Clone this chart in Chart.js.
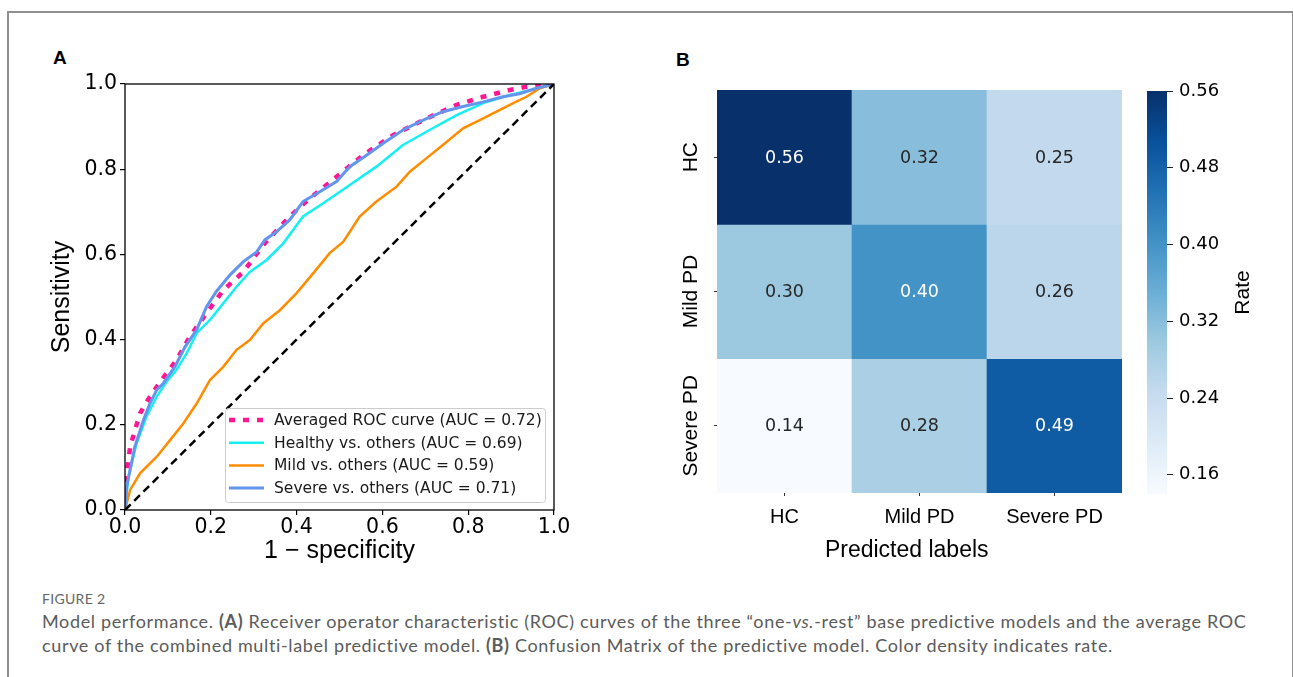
<!DOCTYPE html>
<html>
<head>
<meta charset="utf-8">
<script src="https://cdn.jsdelivr.net/npm/chart.js@4.4.0/dist/chart.umd.min.js"></script>
<style>
  body { margin: 0; background: #fff; width: 1293px; height: 677px; overflow: hidden; position: relative; }
  .box { position: absolute; left: 7px; top: 11px; width: 1283px; height: 720px; border: 2px solid #8f8f8f; }
  canvas { position: absolute; }
  .panel { position: absolute; font: bold 19px "Liberation Sans", Arial, sans-serif; line-height: 19px; color: #000; }
  .cap-label { position: absolute; left: 42px; top: 590px; font: 14px Lato, "Open Sans", sans-serif; color: #666; letter-spacing: 0.3px; }
  .cap-text { position: absolute; left: 42px; top: 609px; width: 1240px; font: 18px Lato, "Open Sans", sans-serif; line-height: 24px; letter-spacing: 0.65px; color: #5b5b5b; white-space: nowrap; }
</style>
</head>
<body>
<div class="box"></div>
<div class="panel" style="left:53px;top:48px">A</div>
<div class="panel" style="left:676px;top:50px">B</div>
<canvas id="roc" width="540" height="540" style="left:40px;top:40px"></canvas>
<canvas id="heat" width="480" height="540" style="left:660px;top:40px"></canvas>
<canvas id="cbar" width="150" height="540" style="left:1140px;top:40px"></canvas>
<div class="cap-label">FIGURE 2</div>
<div class="cap-text">Model performance. <b>(A)</b> Receiver operator characteristic (ROC) curves of the three “one-<i>vs.</i>-rest” base predictive models and the average ROC<br>curve of the combined multi-label predictive model. <b>(B)</b> Confusion Matrix of the predictive model. Color density indicates rate.</div>

<script>
// ---- ROC data ----
const avgFpr = [0, 0, 0.012, 0.035, 0.058, 0.082, 0.12, 0.151, 0.19, 0.229, 0.276, 0.322, 0.384, 0.431, 0.493, 0.555, 0.625, 0.703, 0.773, 0.835, 0.897, 0.943, 1];
const avgTpr = [0, 0.05, 0.149, 0.227, 0.266, 0.301, 0.352, 0.407, 0.462, 0.516, 0.559, 0.622, 0.689, 0.732, 0.782, 0.833, 0.88, 0.919, 0.951, 0.97, 0.986, 0.995, 1];

const healthyFpr = [0, 0.008, 0.027, 0.05, 0.074, 0.097, 0.12, 0.144, 0.167, 0.198, 0.229, 0.26, 0.291, 0.33, 0.369, 0.415, 0.462, 0.524, 0.586, 0.648, 0.71, 0.773, 0.835, 0.897, 0.951, 1];
const healthyTpr = [0, 0.078, 0.156, 0.219, 0.266, 0.301, 0.329, 0.368, 0.415, 0.446, 0.485, 0.524, 0.559, 0.587, 0.626, 0.689, 0.72, 0.763, 0.806, 0.857, 0.892, 0.927, 0.955, 0.974, 0.987, 1];

const mildFpr = [0, 0.012, 0.035, 0.074, 0.105, 0.136, 0.167, 0.198, 0.229, 0.26, 0.291, 0.322, 0.361, 0.4, 0.439, 0.477, 0.509, 0.547, 0.586, 0.633, 0.664, 0.703, 0.741, 0.788, 0.827, 0.866, 0.905, 0.936, 0.967, 1];
const mildTpr = [0, 0.047, 0.086, 0.125, 0.164, 0.203, 0.25, 0.305, 0.336, 0.376, 0.399, 0.438, 0.469, 0.509, 0.556, 0.603, 0.63, 0.689, 0.724, 0.759, 0.794, 0.826, 0.857, 0.896, 0.915, 0.935, 0.955, 0.97, 0.99, 1];

const severeFpr = [0, 0.004, 0.023, 0.043, 0.058, 0.074, 0.089, 0.116, 0.14, 0.167, 0.19, 0.213, 0.245, 0.276, 0.307, 0.326, 0.353, 0.384, 0.415, 0.454, 0.493, 0.524, 0.563, 0.602, 0.648, 0.695, 0.741, 0.788, 0.835, 0.881, 0.92, 0.959, 1];
const severeTpr = [0, 0.055, 0.149, 0.211, 0.25, 0.282, 0.297, 0.336, 0.383, 0.423, 0.477, 0.513, 0.552, 0.583, 0.606, 0.634, 0.653, 0.681, 0.724, 0.747, 0.771, 0.806, 0.833, 0.861, 0.892, 0.915, 0.935, 0.947, 0.958, 0.97, 0.977, 0.99, 1];

const chanceLine = [0, 1];
const rocTicks = [0, 0.2, 0.4, 0.6, 0.8, 1.0];

// ---- Confusion matrix ----
const classLabels = ["HC", "Mild PD", "Severe PD"];
const rates = [
  [0.56, 0.32, 0.25],
  [0.30, 0.40, 0.26],
  [0.14, 0.28, 0.49]
];
const rateMin = 0.14, rateMax = 0.56;
const cbarTicks = [0.16, 0.24, 0.32, 0.40, 0.48, 0.56];

// matplotlib "Blues"
const blues = [[247,251,255],[222,235,247],[198,219,239],[158,202,225],[107,174,214],[66,146,198],[33,113,181],[8,81,156],[8,48,107]];

const DEJAVU = '"DejaVu Sans", sans-serif';
const ARIAL = '"Liberation Sans", Arial, sans-serif';

function bluesRgb(t) {
  t = Math.min(1, Math.max(0, t));
  const p = t * (blues.length - 1);
  const i = Math.min(blues.length - 2, Math.floor(p));
  const f = p - i;
  return blues[i].map((c, k) => Math.round(c + (blues[i + 1][k] - c) * f));
}
const rgbStr = c => `rgb(${c[0]},${c[1]},${c[2]})`;
const rateColor = v => bluesRgb((v - rateMin) / (rateMax - rateMin));

function luminance(c) {
  const lin = c.map(x => { x /= 255; return x <= 0.03928 ? x / 12.92 : Math.pow((x + 0.055) / 1.055, 2.4); });
  return 0.2126 * lin[0] + 0.7152 * lin[1] + 0.0722 * lin[2];
}

const zip = (xs, ys) => xs.map((x, i) => ({ x, y: ys[i] }));

Chart.defaults.animation = false;
Chart.defaults.responsive = false;
Chart.defaults.devicePixelRatio = 1;
Chart.defaults.events = [];
Chart.defaults.color = '#000';

// === PANEL A: ROC ===
const rocFrame = {
  id: 'rocFrame',
  afterDraw(chart) {
    const { ctx, chartArea: a } = chart;
    ctx.save();
    ctx.strokeStyle = '#000';
    ctx.lineWidth = 1.3;
    ctx.strokeRect(a.left, a.top, a.right - a.left, a.bottom - a.top);

    // legend, lower right inside the axes (canvas coords)
    const items = chart.data.datasets.filter(d => d.label);
    const bx = 185, by = 368, bw = 320, bh = 94;
    ctx.fillStyle = 'rgba(255,255,255,0.8)';
    ctx.strokeStyle = '#cccccc';
    ctx.lineWidth = 1;
    ctx.beginPath();
    ctx.roundRect(bx + 0.5, by + 0.5, bw, bh, 3);
    ctx.fill();
    ctx.stroke();
    ctx.font = '15.5px ' + DEJAVU;
    ctx.textBaseline = 'middle';
    items.forEach((d, i) => {
      const y = by + 12 + i * 22.7;
      ctx.strokeStyle = d.borderColor;
      ctx.lineWidth = d.borderWidth;
      ctx.setLineDash(d.borderDash || []);
      ctx.beginPath();
      ctx.moveTo(bx + 4, y);
      ctx.lineTo(bx + 39, y);
      ctx.stroke();
      ctx.setLineDash([]);
      ctx.fillStyle = '#1a1a1a';
      ctx.fillText(d.label, bx + 49, y + 1);
    });
    ctx.restore();
  }
};

new Chart(document.getElementById('roc'), {
  type: 'scatter',
  data: {
    datasets: [
      { label: 'Averaged ROC curve (AUC = 0.72)', data: zip(avgFpr, avgTpr), borderColor: '#ff1493', borderWidth: 4.5, borderDash: [6, 8], order: 5 },
      { label: 'Healthy vs. others (AUC = 0.69)', data: zip(healthyFpr, healthyTpr), borderColor: '#14f0f0', borderWidth: 2.5, order: 4 },
      { label: 'Mild vs. others (AUC = 0.59)', data: zip(mildFpr, mildTpr), borderColor: '#ff8c00', borderWidth: 2.5, order: 3 },
      { label: 'Severe vs. others (AUC = 0.71)', data: zip(severeFpr, severeTpr), borderColor: '#6495ed', borderWidth: 3, order: 2 },
      { data: zip(chanceLine, chanceLine), borderColor: '#000', borderWidth: 2.5, borderDash: [8, 5], order: 1 }
    ].map(d => ({ ...d, showLine: true, pointRadius: 0, fill: false, tension: 0 }))
  },
  options: {
    layout: { padding: { top: 44, right: 26, left: 0, bottom: 0 } },
    plugins: { legend: { display: false }, tooltip: { enabled: false } },
    scales: {
      x: {
        type: 'linear', min: 0, max: 1,
        afterFit: s => { s.height = 70; },
        afterBuildTicks: s => { s.ticks = rocTicks.map(v => ({ value: v })); },
        grid: { drawOnChartArea: false, tickLength: 5, color: '#000', lineWidth: 1.2 },
        border: { display: false },
        ticks: { font: { family: DEJAVU, size: 20.5 }, padding: 0, callback: v => v.toFixed(1) },
        title: { display: true, text: '1 \u2212 specificity', font: { family: ARIAL, size: 25 }, padding: { bottom: 14 } }
      },
      y: {
        type: 'linear', min: 0, max: 1,
        afterFit: s => { s.width = 85; },
        afterBuildTicks: s => { s.ticks = rocTicks.map(v => ({ value: v })); },
        grid: { drawOnChartArea: false, tickLength: 5, color: '#000', lineWidth: 1.2 },
        border: { display: false },
        ticks: { font: { family: DEJAVU, size: 20.5 }, padding: 3, callback: v => v.toFixed(1) },
        title: { display: true, text: 'Sensitivity', font: { family: ARIAL, size: 25 }, padding: { top: 7 } }
      }
    }
  },
  plugins: [rocFrame]
});

// === PANEL B: confusion matrix ===
const heatText = {
  id: 'heatText',
  afterDraw(chart) {
    const { ctx } = chart;
    ctx.save();
    ctx.textAlign = 'center';
    ctx.textBaseline = 'middle';
    ctx.font = '17.5px ' + DEJAVU;
    chart.data.datasets.forEach((ds, r) => {
      chart.getDatasetMeta(r).data.forEach((bar, c) => {
        const v = rates[r][c];
        ctx.fillStyle = luminance(rateColor(v)) > 0.408 ? '#262626' : '#ffffff';
        ctx.fillText(v.toFixed(2), bar.x, (bar.y + bar.base) / 2 + 1);
      });
    });
    // row labels, rotated (canvas x 31 = page x 691)
    const ys = chart.scales.y;
    ctx.fillStyle = '#000';
    ctx.font = '21px ' + ARIAL;
    classLabels.forEach((lab, r) => {
      ctx.save();
      ctx.translate(31, ys.getPixelForValue(r + 0.5));
      ctx.rotate(-Math.PI / 2);
      ctx.fillText(lab, 0, 0);
      ctx.restore();
    });
    ctx.restore();
  }
};

new Chart(document.getElementById('heat'), {
  type: 'bar',
  data: {
    labels: classLabels,
    datasets: rates.map((row, r) => ({
      data: row.map(() => [r, r + 1]),
      backgroundColor: row.map(v => rgbStr(rateColor(v))),
      borderWidth: 0,
      barPercentage: 1,
      categoryPercentage: 1,
      grouped: false
    }))
  },
  options: {
    layout: { padding: { top: 50, right: 18, left: 0, bottom: 0 } },
    plugins: { legend: { display: false }, tooltip: { enabled: false } },
    scales: {
      x: {
        afterFit: s => { s.height = 87; },
        grid: { offset: false, drawOnChartArea: false, tickLength: 3, color: '#333' },
        border: { display: false },
        ticks: { font: { family: ARIAL, size: 20 }, padding: 9, color: '#000' },
        title: { display: true, text: 'Predicted labels    ', font: { family: ARIAL, size: 23 }, padding: { bottom: 16 } }
      },
      y: {
        type: 'linear', min: 0, max: 3, reverse: true,
        afterFit: s => { s.width = 57; },
        afterBuildTicks: s => { s.ticks = classLabels.map((l, i) => ({ value: i + 0.5 })); },
        grid: { drawOnChartArea: false, tickLength: 3, color: '#333' },
        border: { display: false },
        ticks: { display: false }
      }
    }
  },
  plugins: [heatText]
});

// === colour bar ===
const cbarTitle = {
  id: 'cbarTitle',
  afterDraw(chart) {
    const { ctx, chartArea: a } = chart;
    ctx.save();
    ctx.font = '21px ' + ARIAL;
    ctx.fillStyle = '#000';
    ctx.textAlign = 'center';
    ctx.textBaseline = 'middle';
    ctx.translate(1243 - 1140, (a.top + a.bottom) / 2);
    ctx.rotate(-Math.PI / 2);
    ctx.fillText('Rate', 0, 0);
    ctx.restore();
  }
};

new Chart(document.getElementById('cbar'), {
  type: 'bar',
  data: {
    labels: ['Rate'],
    datasets: [{
      data: [[rateMin, rateMax]],
      barPercentage: 1,
      categoryPercentage: 1,
      borderWidth: 0,
      backgroundColor(ctx) {
        const { chart } = ctx;
        const a = chart.chartArea;
        if (!a || !isFinite(a.top) || !isFinite(a.bottom)) return '#6baed6';
        const g = chart.ctx.createLinearGradient(0, a.bottom, 0, a.top);
        blues.forEach((c, i) => g.addColorStop(i / (blues.length - 1), rgbStr(c)));
        return g;
      }
    }]
  },
  options: {
    layout: { padding: { top: 51, right: 0, left: 7, bottom: 86 } },
    plugins: { legend: { display: false }, tooltip: { enabled: false } },
    scales: {
      x: { display: false },
      y: {
        type: 'linear', position: 'right', min: rateMin, max: rateMax,
        afterFit: s => { s.width = 123; },
        afterBuildTicks: s => { s.ticks = cbarTicks.map(v => ({ value: v })); },
        grid: { drawOnChartArea: false, tickLength: 6, color: '#222' },
        border: { display: false },
        ticks: { font: { family: DEJAVU, size: 18 }, padding: 6, color: '#000', callback: v => v.toFixed(2) }
      }
    }
  },
  plugins: [cbarTitle]
});
</script>
</body>
</html>
